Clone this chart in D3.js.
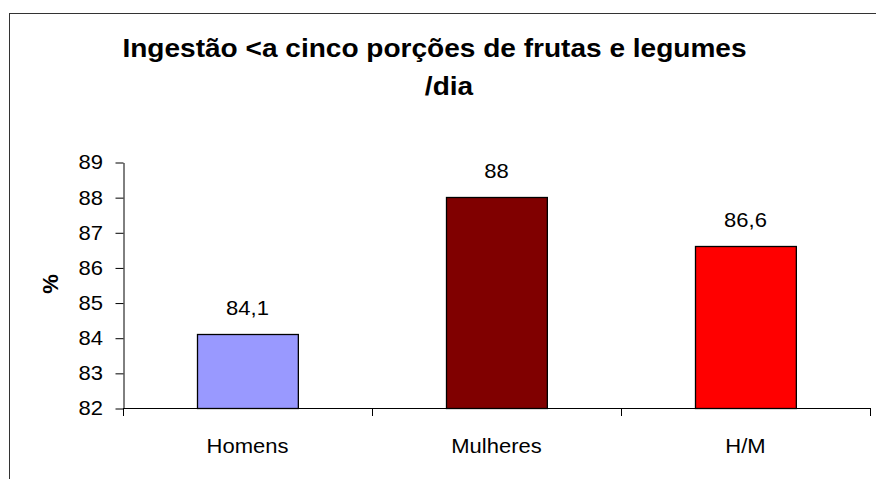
<!DOCTYPE html>
<html>
<head>
<meta charset="utf-8">
<script src="https://cdn.jsdelivr.net/npm/d3@7"></script>
<style>
  body { margin: 0; background: #fff; }
  text { font-family: Arial, "Liberation Sans", sans-serif; fill: #000; }
</style>
</head>
<body>
<svg id="chart"></svg>
<script>
// data
var categories = ['Homens', 'Mulheres', 'H/M']
var values = [84.1, 88, 86.6]
var valueLabels = ['84,1', '88', '86,6']
var barColors = ['#9999ff', '#800000', '#ff0000']
var yTicks = [82, 83, 84, 85, 86, 87, 88, 89]
var titleLines = ['Ingestão <a cinco porções de frutas e legumes', '/dia']

var width = 876
var height = 479
var plot = {left: 123, right: 870, top: 162, bottom: 408}
var stretchX = 1.1 // the original text looks a bit wide

var svg = d3.select('#chart')
  .attr('width', width)
  .attr('height', height)

function place(x, y) {
  return 'translate(' + x + ',' + y + ') scale(' + stretchX + ',1)'
}

// outer frame (runs off the right and bottom edges)
svg.append('rect')
  .attr('x', 9.5)
  .attr('y', 13.5)
  .attr('width', width)
  .attr('height', height)
  .attr('fill', 'none')
  .attr('stroke', '#333')
  .attr('stroke-width', 1)

var xScale = d3.scaleBand()
  .domain(categories)
  .range([plot.left, plot.right])
  .paddingInner(0.595)
  .paddingOuter(0.2975)

var yScale = d3.scaleLinear()
  .domain([82, 89])
  .range([plot.bottom, plot.top])

// y axis
var yAxis = svg.append('g')
  .attr('transform', 'translate(' + (plot.left + 0.5) + ',0.5)')
  .call(d3.axisLeft(yScale).tickValues(yTicks).tickFormat(d3.format('d')).tickSize(8).tickSizeOuter(0))
yAxis.select('.domain').attr('stroke', '#000')
yAxis.selectAll('.tick line').attr('stroke', '#000')
yAxis.selectAll('.tick text')
  .attr('x', null)
  .attr('dy', '0.32em')
  .attr('transform', place(-20.5, 0))
  .style('font-size', '20px')
  .attr('fill', '#000')

// x axis
var bounds = d3.range(categories.length + 1).map(i => plot.left + i * xScale.step())
var xAxis = svg.append('g')
xAxis.append('line')
  .attr('x1', plot.left)
  .attr('x2', plot.right)
  .attr('y1', plot.bottom + 0.5)
  .attr('y2', plot.bottom + 0.5)
  .attr('stroke', '#000')
xAxis.selectAll('.xtick')
  .data(bounds)
  .enter()
  .append('line')
    .attr('x1', d => Math.round(d) + 0.5)
    .attr('x2', d => Math.round(d) + 0.5)
    .attr('y1', plot.bottom)
    .attr('y2', plot.bottom + 8)
    .attr('stroke', '#000')
xAxis.selectAll('.xlabel')
  .data(categories)
  .enter()
  .append('text')
    .text(d => d)
    .attr('transform', d => place(xScale(d) + xScale.bandwidth() / 2, plot.bottom + 45))
    .style('font-size', '20px')
    .style('text-anchor', 'middle')

// bars
var bars = svg.selectAll('.bar')
  .data(values)
  .enter()
  .append('g')
    .classed('bar', true)

bars.append('rect')
  .attr('x', (d, i) => Math.round(xScale(categories[i])) + 0.5)
  .attr('y', d => Math.round(yScale(d)) + 0.5)
  .attr('width', xScale.bandwidth())
  .attr('height', d => Math.round(yScale(82)) - Math.round(yScale(d)))
  .attr('fill', (d, i) => barColors[i])
  .attr('stroke', '#000')
  .attr('stroke-width', 1.3)

bars.append('text')
  .text((d, i) => valueLabels[i])
  .attr('transform', (d, i) => place(xScale(categories[i]) + xScale.bandwidth() / 2, yScale(d) - 19))
  .style('font-size', '20px')
  .style('text-anchor', 'middle')

// title
var titleX = [434.5, 449]
svg.append('g')
  .selectAll('text')
  .data(titleLines)
  .enter()
  .append('text')
    .text(d => d)
    .attr('transform', (d, i) => place(titleX[i], 57 + i * 38))
    .style('font-size', '25.5px')
    .style('font-weight', 'bold')
    .style('text-anchor', 'middle')

// y axis label
svg.append('text')
  .text('%')
  .attr('transform', 'translate(58,284) rotate(-90)')
  .style('font-size', '22px')
  .style('font-weight', 'bold')
  .style('text-anchor', 'middle')
</script>
</body>
</html>
